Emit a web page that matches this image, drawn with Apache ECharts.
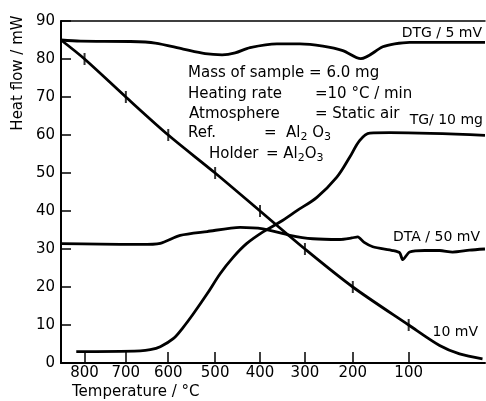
<!DOCTYPE html>
<html>
<head>
<meta charset="utf-8">
<script src="https://cdn.jsdelivr.net/npm/echarts@6/dist/echarts.min.js"></script>
<style>html,body{margin:0;padding:0;background:#fff}#c{width:486px;height:401px}</style>
</head>
<body>
<div id="c"></div>
<script>
// x axis: time-like running position (arbitrary units), labelled by temperature
const tickTimes = [4.72, 13.0, 21.5, 30.9, 39.9, 48.9, 58.5, 69.7];
const tickLabels = ['800', '700', '600', '500', '400', '300', '200', '100'];
const yTicks = [0, 10, 20, 30, 40, 50, 60, 70, 80, 90];

// 10 mV temperature trace
const mvTime  = [0, 4.72, 13.0, 21.5, 30.9, 39.9, 48.9, 58.5, 69.7, 75.9, 79.9, 84.5];
const mvValue = [85, 80, 70, 60, 50, 40, 30, 20, 10, 4.6, 2.4, 1.1];
// crossing marks on the 10 mV trace
const mvMarkTime  = [4.72, 13.0, 21.5, 30.9, 39.9, 48.9, 58.5, 69.7];
const mvMarkValue = [80, 70, 60, 50, 40, 30, 20, 10];

// DTG / 5 mV
const dtgTime  = [0, 3.9, 13.9, 18.9, 24.5, 28.9, 32.3, 34.9, 37.9, 43.3, 47.9, 52.5, 56.5, 60.1, 64.5, 66.9, 69.9, 85];
const dtgValue = [85.0, 84.7, 84.6, 84.2, 82.6, 81.4, 81.1, 81.6, 83.0, 84.0, 84.0, 83.4, 82.2, 80.1, 83.2, 84.0, 84.4, 84.4];

// TG / 10 mg
const tgTime  = [3.06, 15.9, 17.9, 19.9, 22.5, 24.5, 26.5, 29.3, 31.9, 34.5, 37.2, 40.5, 43.9, 47.3, 51.3, 55.3, 57.9, 59.9, 61.9, 65.9, 85];
const tgValue = [3.0, 3.2, 3.5, 4.3, 6.4, 9.4, 12.9, 18.2, 23.5, 27.8, 31.4, 34.5, 37.1, 40.1, 43.6, 48.9, 54.2, 58.6, 60.5, 60.6, 59.9];

// DTA / 50 mV
const dtaTime  = [0, 7.9, 15.9, 19.9, 23.9, 29.3, 35.9, 40.5, 45.9, 50.5, 55.9, 58.3, 59.5, 60.7, 62.5, 66.5, 67.9, 68.5, 69.9, 72.9, 75.9, 78.5, 81.9, 85];
const dtaValue = [31.4, 31.3, 31.2, 31.5, 33.6, 34.6, 35.7, 35.3, 33.6, 32.7, 32.5, 32.9, 33.2, 31.8, 30.6, 29.6, 29.0, 27.2, 29.2, 29.6, 29.6, 29.2, 29.7, 30.0];

const pairs = (xs, ys) => xs.map((x, i) => [x, ys[i]]);
const FONT = 'DejaVu Sans';
const lineSeries = (name, xs, ys, smooth) => ({
  name, type: 'line', data: pairs(xs, ys), symbol: 'none', smooth,
  lineStyle: { color: '#000', width: 2.8 }, itemStyle: { color: '#000' }
});

const chart = echarts.init(document.getElementById('c'), null, { renderer: 'canvas' });
const txt = (x, y, text, align, size, extra) => Object.assign({
  type: 'text', x, y,
  style: { text, font: (size || 15) + 'px "' + FONT + '"', fill: '#000',
           textAlign: align || 'left', textVerticalAlign: 'middle' }
}, extra || {});
const subRich = {
  n: { fontSize: 15, fontFamily: FONT, color: '#000' },
  s: { fontSize: 11, fontFamily: FONT, color: '#000', padding: [9, 0, 0, 0] }
};
const richTxt = (x, y, text) => ({
  type: 'text', x, y,
  style: { text, rich: subRich, font: '15px "' + FONT + '"', fill: '#000',
           textAlign: 'left', textVerticalAlign: 'middle' }
});

chart.setOption({
  animation: false,
  backgroundColor: '#fff',
  grid: { left: 61, right: 1, top: 21, bottom: 38 },
  xAxis: [{
    type: 'value', min: 0, max: 85, position: 'bottom',
    axisLine: { lineStyle: { color: '#000', width: 2 } },
    splitLine: { show: false },
    axisTick: { inside: true, length: 11, customValues: tickTimes, lineStyle: { color: '#000', width: 1.5 } },
    axisLabel: {
      customValues: tickTimes, margin: 3, color: '#000', fontSize: 15, fontFamily: FONT,
      formatter: v => {
        let best = 0;
        tickTimes.forEach((t, i) => { if (Math.abs(t - v) < Math.abs(tickTimes[best] - v)) best = i; });
        return tickLabels[best];
      }
    }
  }, {
    type: 'value', min: 0, max: 85, position: 'top',
    axisLine: { show: true, lineStyle: { color: '#000', width: 1.5 } },
    axisTick: { show: false }, axisLabel: { show: false }, splitLine: { show: false }
  }],
  yAxis: {
    type: 'value', min: 0, max: 90, interval: 10,
    axisLine: { show: true, lineStyle: { color: '#000', width: 2 } },
    splitLine: { show: false },
    axisTick: { inside: true, length: 10, lineStyle: { color: '#000', width: 1.5 } },
    axisLabel: { color: '#000', fontSize: 15, fontFamily: FONT, margin: 6,
      formatter: v => (yTicks.indexOf(v) >= 0 ? String(v) : '') }
  },
  series: [
    lineSeries('10 mV', mvTime, mvValue, 0.3),
    lineSeries('DTG / 5 mV', dtgTime, dtgValue, 0.3),
    lineSeries('TG / 10 mg', tgTime, tgValue, 0.35),
    lineSeries('DTA / 50 mV', dtaTime, dtaValue, 0.25),
    {
      name: 'marks', type: 'scatter', data: pairs(mvMarkTime, mvMarkValue),
      symbol: 'rect', symbolSize: [2, 12], itemStyle: { color: '#000' }, z: 5
    }
  ],
  graphic: [
    txt(18, 73, 'Heat flow / mW', 'center', 15, { rotation: Math.PI / 2 }),
    txt(72, 392, 'Temperature / °C', 'left', 15),
    txt(482, 33, 'DTG / 5 mV', 'right', 14),
    txt(483, 120, 'TG/ 10 mg', 'right', 14),
    txt(480, 237, 'DTA / 50 mV', 'right', 14),
    txt(478, 332, '10 mV', 'right', 14),
    txt(188, 73, 'Mass of sample = 6.0 mg', 'left', 15),
    txt(188, 94, 'Heating rate', 'left', 15),
    txt(315, 94, '=10 °C / min', 'left', 15),
    txt(189, 114, 'Atmosphere', 'left', 15),
    txt(315, 114, '= Static air', 'left', 15),
    txt(188, 133, 'Ref.', 'left', 15),
    richTxt(264, 133, '{n|=  Al}{s|2}{n| O}{s|3}'),
    txt(209, 154, 'Holder', 'left', 15),
    richTxt(266, 154, '{n|= Al}{s|2}{n|O}{s|3}')
  ]
});
</script>
</body>
</html>
